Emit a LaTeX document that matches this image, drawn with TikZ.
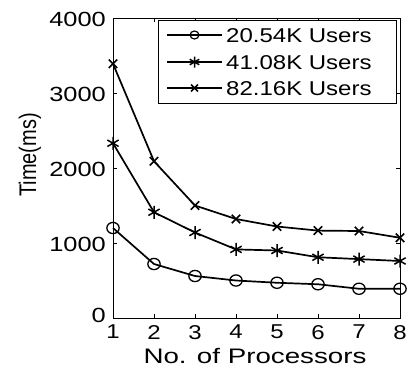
\documentclass[tikz,border=0pt]{standalone}
\usepackage{fontspec}
\setmainfont{Liberation Sans}[FakeStretch=1.2]
\newfontfamily\plainfont{Liberation Sans}
\newfontfamily\widefont{Liberation Sans}[FakeStretch=1.32]
\newfontfamily\digitfont{Liberation Sans}[FakeStretch=1.24]
\usetikzlibrary{plotmarks}
\begin{document}
\begin{tikzpicture}[x=1pt,y=-1pt,
  ticklab/.style={font=\fontsize{20}{22}\selectfont, inner sep=0pt},
  ytlab/.style={font=\fontsize{20.5}{22}\digitfont, inner sep=0pt},
  axisline/.style={line width=0.9pt, black},
  dataline/.style={line width=1.7pt, black},
  mkcirc/.style={mark=o, mark size=5.6pt, mark options={solid, line width=1.3pt, xscale=1.1}},
  mkstar/.style={mark=asterisk, mark size=6.5pt, mark options={solid, line width=1.5pt}},
  mkcross/.style={mark=x, mark size=6pt, mark options={solid, line width=1.6pt}},
  lmkcirc/.style={mark=o, mark size=4pt, mark options={solid, line width=1.2pt, xscale=1.1}},
  lmkstar/.style={mark=asterisk, mark size=5.5pt, mark options={solid, line width=1.5pt}},
  lmkcross/.style={mark=x, mark size=4.8pt, mark options={solid, line width=1.6pt}},
]
\useasboundingbox (0,0) rectangle (409,368);
\fill[white] (0,0) rectangle (409,368);
% axes box
\coordinate (tl) at (113,18);
\coordinate (br) at (400,318);
\draw[axisline] (tl) rectangle (br);
% x ticks
\foreach \i [count=\k from 0] in {1,...,8} {
  \draw[axisline] ({113+\k*41},318) -- ({113+\k*41},314);
  \draw[axisline] ({113+\k*41},18) -- ({113+\k*41},22);
  \node[ticklab, anchor=north] (xt\i) at ({113+\k*41},325) {\i};
}
% y ticks
\foreach \v [count=\k from 0] in {0,1000,2000,3000,4000} {
  \draw[axisline] (113,{318-\k*75}) -- (117,{318-\k*75});
  \draw[axisline] (400,{318-\k*75}) -- (396,{318-\k*75});
}
\node[ytlab, anchor=east] (yt4) at (106,19) {4000};
\node[ytlab, anchor=east] (yt3) at (106,94) {3000};
\node[ytlab, anchor=east] (yt2) at (106,169) {2000};
\node[ytlab, anchor=east] (yt1) at (106,244) {1000};
\node[ytlab, anchor=east] (yt0) at (106,315) {0};
% axis labels
\node[inner sep=0pt, font=\fontsize{21}{24}\widefont] (xl) at (255,356) {No. of Processors};
\node[inner sep=0pt, rotate=90, font=\fontsize{20}{24}\plainfont] (yl) at (30,155) {\scalebox{1}[1.2]{Time(ms)}};
% data
\draw[dataline] plot[mkcirc] coordinates {(113,228) (154,264) (195,276) (236,280.5) (277,282.75) (318,284.25) (359,288.75) (400,288.75)};
\draw[dataline] plot[mkstar] coordinates {(113,143.25) (154,212.25) (195,232.5) (236,249.4) (277,250.5) (318,257.25) (359,259.1) (400,261)};
\draw[dataline] plot[mkcross] coordinates {(113,63.75) (154,161.25) (195,205.5) (236,219) (277,226.5) (318,230.6) (359,231) (400,237.75)};
% legend
\node[draw, line width=0.9pt, fill=white, minimum width=238pt, minimum height=83pt, inner sep=0pt, anchor=north west] (leg) at (158,20) {};
\coordinate (la1) at (167,35); \coordinate (lb1) at (222,35);
\coordinate (la2) at (167,62); \coordinate (lb2) at (222,62);
\coordinate (la3) at (167,88); \coordinate (lb3) at (222,88);
\draw[dataline] (la1) -- (lb1);
\draw[dataline] (la2) -- (lb2);
\draw[dataline] (la3) -- (lb3);
\draw[dataline] plot[lmkcirc] coordinates {(194.5,35)};
\draw[dataline] plot[lmkstar] coordinates {(194.5,62)};
\draw[dataline] plot[lmkcross] coordinates {(194.5,88)};
\node[ticklab, anchor=west] (lt1) at (226,36) {20.54K Users};
\node[ticklab, anchor=west] (lt2) at (226,63) {41.08K Users};
\node[ticklab, anchor=west] (lt3) at (226,89) {82.16K Users};
\end{tikzpicture}
\end{document}
